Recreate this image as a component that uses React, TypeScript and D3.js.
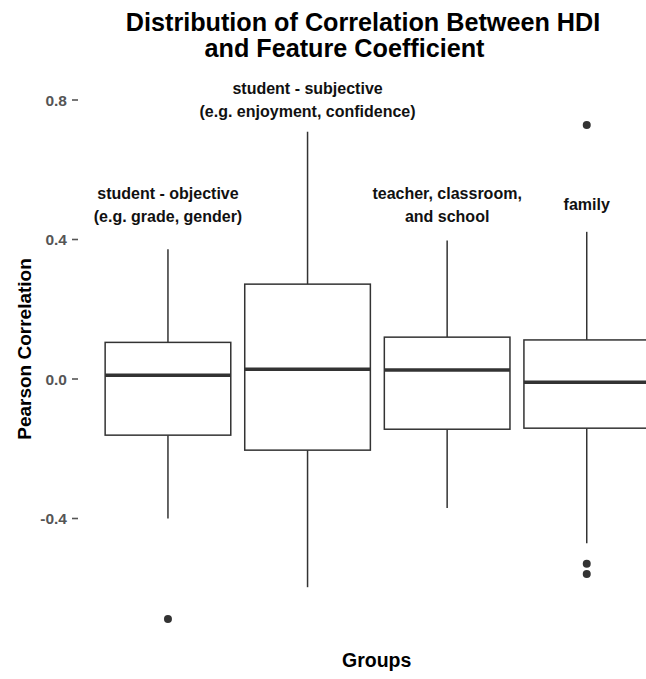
import React from "react";
import * as d3 from "d3";

const groups = ["objective", "subjective", "school", "family"];
const labelLines = [
  ["student - objective", "(e.g. grade, gender)"],
  ["student - subjective", "(e.g. enjoyment, confidence)"],
  ["teacher, classroom,", "and school"],
  ["family"],
];
const labelY = [0.5, 0.8, 0.5, 0.5];
const q1 = [-0.161, -0.204, -0.144, -0.141];
const median = [0.011, 0.028, 0.026, -0.009];
const q3 = [0.105, 0.272, 0.12, 0.112];
const whiskerLow = [-0.4, -0.597, -0.37, -0.471];
const whiskerHigh = [0.372, 0.709, 0.397, 0.422];
const outliers = [[-0.688], [], [], [0.728, -0.53, -0.559]];
const yTicks = [-0.4, 0, 0.4, 0.8];

const W = 646;
const H = 679;
const FONT = "'Liberation Sans', Arial, Helvetica, sans-serif";
const INK = "#333333";

export default function App() {
  const x = d3
    .scaleBand<string>()
    .domain(groups)
    .range([84.2, 670.5])
    .paddingInner(0.1)
    .paddingOuter(0.15);
  const y = d3.scaleLinear().domain([0, 0.8]).range([379, 100]);
  const bw = x.bandwidth();
  const fs = 16;
  const lh = 23;
  const fmt = (t: number) => t.toFixed(1);

  return (
    <svg
      width={W}
      height={H}
      style={{ position: "absolute", left: 0, top: 0, background: "#fff" }}
      fontFamily={FONT}
    >
      <rect width={W} height={H} fill="#fff" />
      {/* title */}
      <text x={363} y={31} textAnchor="middle" fontSize={25.2} fontWeight="bold" fill="#000">
        Distribution of Correlation Between HDI
      </text>
      <text x={344.5} y={57} textAnchor="middle" fontSize={25.2} fontWeight="bold" fill="#000">
        and Feature Coefficient
      </text>

      {/* y axis ticks */}
      {yTicks.map((t) => (
        <g key={t}>
          <text
            x={67}
            y={y(t)}
            dy="0.36em"
            textAnchor="end"
            fontSize={15.5}
            fontWeight="bold"
            fill="#555"
          >
            {fmt(t)}
          </text>
          <line x1={72} x2={78} y1={y(t)} y2={y(t)} stroke="#555" strokeWidth={1.6} />
        </g>
      ))}

      {/* axis titles */}
      <text
        transform={`translate(31,349) rotate(-90)`}
        textAnchor="middle"
        fontSize={19}
        fontWeight="bold"
        fill="#000"
      >
        Pearson Correlation
      </text>
      <text x={376.7} y={667} textAnchor="middle" fontSize={19.5} fontWeight="bold" fill="#000">
        Groups
      </text>

      {/* boxes */}
      {groups.map((g, i) => {
        const x0 = x(g)!;
        const cx = x0 + bw / 2;
        return (
          <g key={g}>
            <line x1={cx} x2={cx} y1={y(q3[i])} y2={y(whiskerHigh[i])} stroke={INK} strokeWidth={1.5} />
            <line x1={cx} x2={cx} y1={y(q1[i])} y2={y(whiskerLow[i])} stroke={INK} strokeWidth={1.5} />
            <rect
              x={x0}
              y={y(q3[i])}
              width={bw}
              height={y(q1[i]) - y(q3[i])}
              fill="#fff"
              stroke={INK}
              strokeWidth={1.5}
            />
            <line x1={x0} x2={x0 + bw} y1={y(median[i])} y2={y(median[i])} stroke={INK} strokeWidth={3.5} />
            {outliers[i].map((o, k) => (
              <circle key={k} cx={cx} cy={y(o)} r={4} fill={INK} />
            ))}
          </g>
        );
      })}

      {/* annotations */}
      {groups.map((g, i) => {
        const cx = x(g)! + bw / 2;
        const lines = labelLines[i];
        const yc = y(labelY[i]);
        return (
          <text key={g} textAnchor="middle" fontSize={fs} fontWeight="bold" fill="#111">
            {lines.map((l, k) => (
              <tspan key={k} x={cx} y={yc + (k - (lines.length - 1) / 2) * lh + 0.35 * fs}>
                {l}
              </tspan>
            ))}
          </text>
        );
      })}
    </svg>
  );
}
